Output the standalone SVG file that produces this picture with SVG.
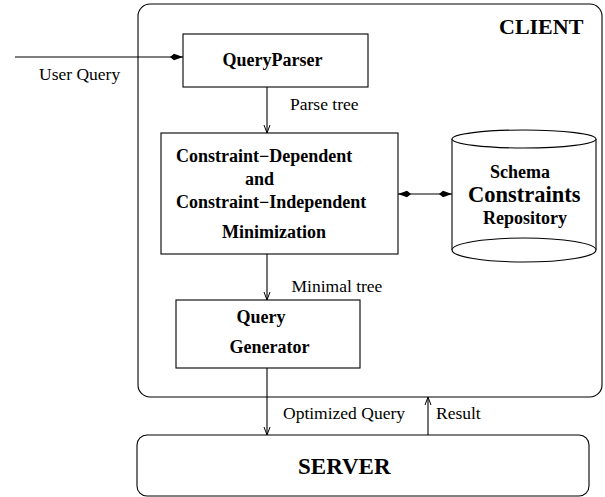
<svg xmlns="http://www.w3.org/2000/svg" width="605" height="497" viewBox="0 0 605 497">
<defs>
<style>
.b{font-family:"Liberation Serif","Times New Roman",serif;font-weight:bold;font-size:18px;fill:#000}
.r{font-family:"Liberation Serif","Times New Roman",serif;font-size:17.5px;fill:#000}
.s{fill:#fff;stroke:#000;stroke-width:1.1}
.c{fill:none;stroke:#000;stroke-width:1.1}
</style>
<marker id="open" markerUnits="userSpaceOnUse" markerWidth="10" markerHeight="8" refX="8" refY="3" orient="auto" overflow="visible">
<path d="M0,0 L8,3 L0,6" fill="none" stroke="#000" stroke-width="1"/>
</marker>
<marker id="fill" markerUnits="userSpaceOnUse" markerWidth="14" markerHeight="10" refX="13" refY="4" orient="auto-start-reverse" overflow="visible">
<path d="M13,4 L4,0.8 L0,4 L4,7.2 z" fill="#000"/>
</marker>
</defs>
<g id="client">
<rect x="138" y="4" width="464" height="393" rx="12" class="s"/>
<text x="499" y="34" class="b" style="font-size:22px">CLIENT</text>
</g>
<g id="server">
<rect x="137" y="435" width="452" height="61" rx="10" class="s"/>
<text x="298" y="474" class="b" style="font-size:23px">SERVER</text>
</g>
<g id="queryparser">
<rect x="183" y="34" width="185" height="53" class="s"/>
<text x="222.5" y="66" class="b">QueryParser</text>
</g>
<g id="minimization">
<rect x="161" y="133" width="237" height="121" class="s"/>
<text x="176" y="162" class="b">Constraint−Dependent</text>
<text x="245" y="185" class="b">and</text>
<text x="176" y="208" class="b">Constraint−Independent</text>
<text x="222" y="238" class="b">Minimization</text>
</g>
<g id="repository">
<path d="M452,139 L452,250 M596,139 L596,250" class="c"/>
<ellipse cx="524" cy="139" rx="72" ry="9" class="s"/>
<ellipse cx="524" cy="250" rx="72" ry="12" class="s"/>
<text x="490" y="178" class="b">Schema</text>
<text x="468" y="202" class="b" style="font-size:22.5px">Constraints</text>
<text x="483" y="224" class="b">Repository</text>
</g>
<g id="generator">
<rect x="176" y="300" width="184" height="68" class="s"/>
<text x="236.5" y="323" class="b">Query</text>
<text x="229.5" y="353" class="b">Generator</text>
</g>
<g id="connectors">
<line x1="15" y1="57" x2="183" y2="57" class="c" marker-end="url(#fill)"/>
<line x1="267" y1="87" x2="267" y2="133" class="c" marker-end="url(#open)"/>
<line x1="398" y1="194" x2="452" y2="194" class="c" marker-start="url(#fill)" marker-end="url(#fill)"/>
<line x1="267" y1="254" x2="267" y2="300" class="c" marker-end="url(#open)"/>
<line x1="267" y1="368" x2="267" y2="435" class="c" marker-end="url(#open)"/>
<line x1="428" y1="435" x2="428" y2="397" class="c" marker-end="url(#open)"/>
</g>
<g id="labels">
<text x="39" y="80" class="r">User Query</text>
<text x="290" y="110" class="r">Parse tree</text>
<text x="291.5" y="292" class="r">Minimal tree</text>
<text x="283" y="419" class="r">Optimized Query</text>
<text x="436" y="419" class="r">Result</text>
</g>
</svg>
